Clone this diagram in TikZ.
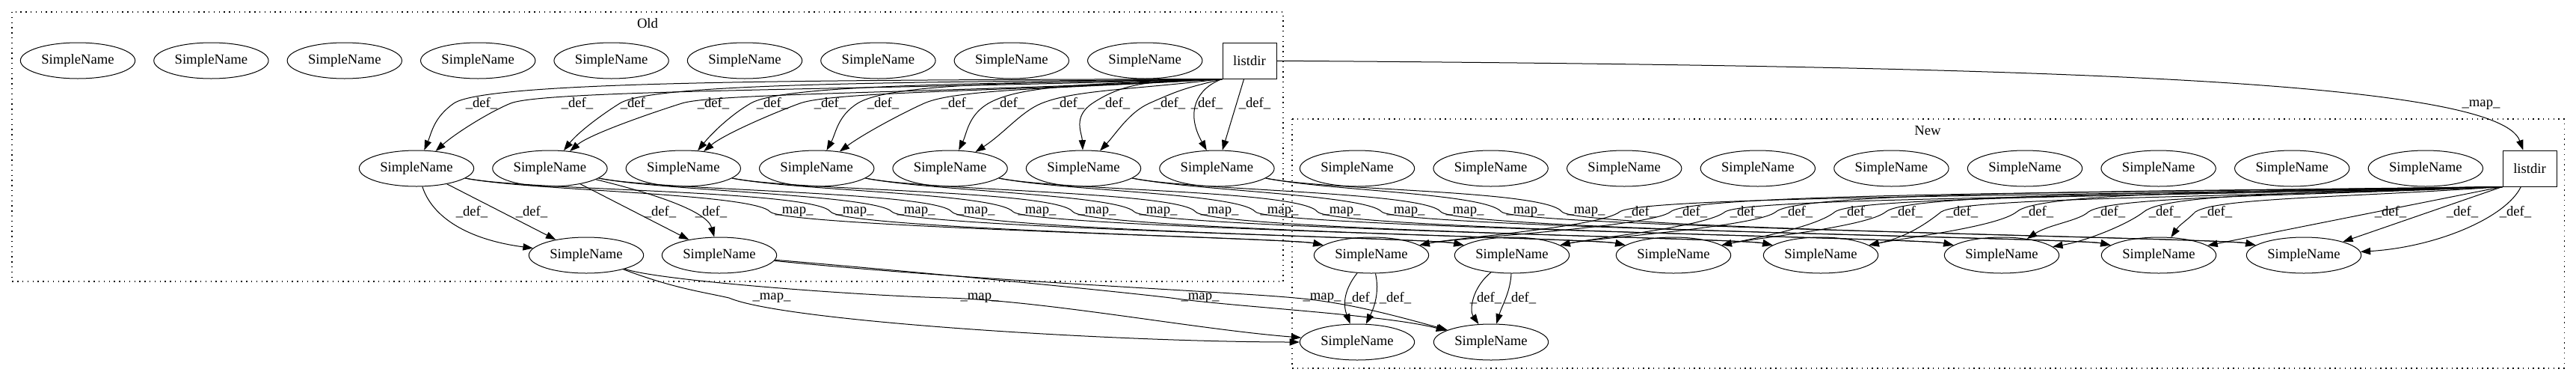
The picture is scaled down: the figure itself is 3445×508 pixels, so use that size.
\documentclass[tikz,border=0pt]{standalone}
\usepackage{fontspec}
\setmainfont{Liberation Serif}
\usetikzlibrary{arrows.meta, shapes.geometric}

\tikzset{
  sname/.style={draw, ellipse, line width=0.75pt, minimum width=115pt, minimum height=36pt, inner sep=0pt, font=\fontsize{14}{16}\selectfont},
  fbox/.style={draw, rectangle, line width=0.75pt, minimum width=54pt, minimum height=36pt, inner sep=0pt, font=\fontsize{14}{16}\selectfont},
  edge/.style={->, line width=0.75pt},
  lbl/.style={inner sep=0pt, font=\fontsize{14}{16}\selectfont},
  cluster/.style={line width=0.8pt, dash pattern=on 1.1pt off 4pt}
}

\begin{document}
\begin{tikzpicture}[>={Triangle[length=10pt,width=7pt]}, x=0.75pt, y=0.75pt]
        \useasboundingbox (0,0) rectangle (3445,-508);

        % Cluster Old / New
        \draw[cluster] (16,-16) rectangle (1716,-376);
        \node[lbl] (oldlbl) at (866,-31) {Old};
        \draw[cluster] (1728,-159) rectangle (3429,-492);
        \node[lbl] (newlbl) at (2578,-174) {New};

        % Nodes Old
        \foreach \i in {1,...,9}
            \node[sname] (o\i) at ({104+178.4*(\i-1)},-81) {SimpleName};
        \node[fbox] (ol) at (1671,-81) {listdir};
        \foreach \i in {1,...,7}
            \node[sname] (a\i) at ({557+178.4*(\i-1)},-225) {SimpleName};
        \node[sname] (b1) at (784,-341) {SimpleName};
        \node[sname] (b2) at (962,-341) {SimpleName};

        % Nodes New
        \foreach \i in {1,...,9}
            \node[sname] (n\i) at ({1815+178.6*(\i-1)},-225) {SimpleName};
        \node[fbox] (nl) at (3383,-225) {listdir};
        \foreach \cx [count=\i] in {1834,2022,2238,2435,2677,2887,3081}
            \node[sname] (c\i) at (\cx,-341) {SimpleName};
        \node[sname] (d1) at (1815,-457) {SimpleName};
        \node[sname] (d2) at (1994,-457) {SimpleName};

        % listdir (Old) -> SimpleName
        \foreach \wx/\ty/\qx/\tg/\lx in {607/107/577/a1/644, 683/120/609/a1/772, 829/110/772/a2/851, 912/124/790/a2/954,
                1004/112/952/a3/1033, 1070/122/970/a3/1110, 1147/110/1118/a4/1181, 1236/118/1156/a4/1280,
                1322/112/1293/a5/1349, 1393/120/1343/a5/1429, 1461/108/1447/a6/1490, 1537/118/1493/a6/1564}
            \draw[edge] (ol.south west) .. controls ({(1635+\wx)/2},-\ty) and (\wx+45,-\ty) .. (\wx,-138)
                .. controls (\wx-27,{-138-0.6*(138-\ty)}) and (\qx,-178) .. (\tg) node[lbl] at (\lx,-138) {\_def\_};
        \draw[edge] (ol.south west) .. controls (1600,-118) and (1585,-150) .. (a7) node[lbl] at (1614,-138) {\_def\_};
        \draw[edge] (ol) -- (a7) node[lbl] at (1678,-138) {\_def\_};

        % SimpleName -> SimpleName (Old)
        \draw[edge] (a1) .. controls (578,-290) and (625,-320) .. (b1) node[lbl] at (631,-283) {\_def\_};
        \draw[edge] (a1) -- (b1) node[lbl] at (711,-283) {\_def\_};
        \draw[edge] (a2) -- (b2) node[lbl] at (883,-283) {\_def\_};
        \draw[edge] (a2) .. controls (860,-255) and (945,-280) .. (b2) node[lbl] at (951,-283) {\_def\_};

        % _map_ Old -> New
        \foreach \src/\ax/\wx/\tu/\tl/\tg/\cx/\lx in {a1/557/1030/258/303/c1/1834/1062, a1/557/1111/254/306/c1/1834/1143,
                a2/735.4/1193/260/304/c2/2022/1225, a2/735.4/1273/256/307/c2/2022/1305,
                a3/913.8/1355/258/303/c3/2238/1387, a3/913.8/1435/254/306/c3/2238/1467,
                a4/1092.2/1517/260/304/c4/2435/1549, a4/1092.2/1599/256/307/c4/2435/1631,
                a5/1270.6/1679/258/303/c5/2677/1711, a5/1270.6/1762/254/306/c5/2677/1794,
                a6/1449/1848/260/304/c6/2887/1880, a6/1449/1927/256/307/c6/2887/1959,
                a7/1627.4/2008/258/303/c7/3081/2040, a7/1627.4/2089/254/306/c7/3081/2121}
            \draw[edge] (\src) .. controls (\ax+150,-255) and (\wx-22,-\tu) .. (\wx,-283)
                .. controls (\wx+22,-\tl) and (\cx-110,-318) .. (\tg) node[lbl] at (\lx,-283) {\_map\_};
        \draw[edge] (b1) .. controls (900,-385) and (940,-390) .. (975,-398)
            .. controls (1050,-430) and (1500,-457) .. (d1) node[lbl] at (1032,-398) {\_map\_};
        \draw[edge] (b1) .. controls (880,-375) and (1150,-395) .. (1267,-398)
            .. controls (1400,-402) and (1600,-440) .. (d1) node[lbl] at (1310,-398) {\_map\_};
        \draw[edge] (b2) .. controls (1250,-365) and (1500,-390) .. (1566,-398)
            .. controls (1650,-410) and (1850,-420) .. (d2) node[lbl] at (1605,-398) {\_map\_};
        \draw[edge] (b2) .. controls (1300,-375) and (1650,-390) .. (1732,-398)
            .. controls (1800,-404) and (1860,-420) .. (d2) node[lbl] at (1768,-398) {\_map\_};
        \draw[edge] (ol) .. controls (2700,-88) and (3340,-105) .. (nl) node[lbl] at (3318,-140) {\_map\_};

        % listdir (New) -> SimpleName
        \foreach \wx/\ty/\px/\py/\qx/\qy/\tg/\lx in {2166/262/2141/303/1944/318/c1/2194, 2234/258/2209/303/1944/318/c1/2262,
                2307/264/2282/303/2132/318/c2/2335, 2375/256/2350/303/2132/318/c2/2403,
                2454/262/2429/303/2348/318/c3/2482, 2522/258/2497/303/2348/318/c3/2550,
                2596/264/2571/303/2545/318/c4/2624, 2697/256/2672/303/2545/318/c4/2725,
                2793/262/2780/295/2740/300/c5/2821, 2867/258/2845/300/2790/322/c5/2895,
                2936/264/2924/295/2915/300/c6/2964}
            \draw[edge] (nl.south west) .. controls ({(3347+\wx)/2},-\ty) and (\wx+30,-\ty) .. (\wx,-283)
                .. controls (\px,-\py) and (\qx,-\qy) .. (\tg) node[lbl] at (\lx,-283) {\_def\_};
        \draw[edge] (nl.south west) -- (c6) node[lbl] at (3197,-283) {\_def\_};
        \draw[edge] (nl.south west) -- (c7) node[lbl] at (3293,-283) {\_def\_};
        \draw[edge] (nl) .. controls (3352,-290) and (3260,-330) .. (c7) node[lbl] at (3364,-283) {\_def\_};

        % SimpleName -> SimpleName (New)
        \draw[edge] (c1) .. controls (1795,-390) and (1797,-410) .. (d1) node[lbl] at (1820,-398) {\_def\_};
        \draw[edge] (c1) .. controls (1845,-390) and (1838,-410) .. (d1) node[lbl] at (1866,-398) {\_def\_};
        \draw[edge] (c2) .. controls (1968,-385) and (1965,-415) .. (d2) node[lbl] at (1987,-398) {\_def\_};
        \draw[edge] (c2) .. controls (2020,-390) and (2008,-410) .. (d2) node[lbl] at (2033,-398) {\_def\_};
\end{tikzpicture}
\end{document}
